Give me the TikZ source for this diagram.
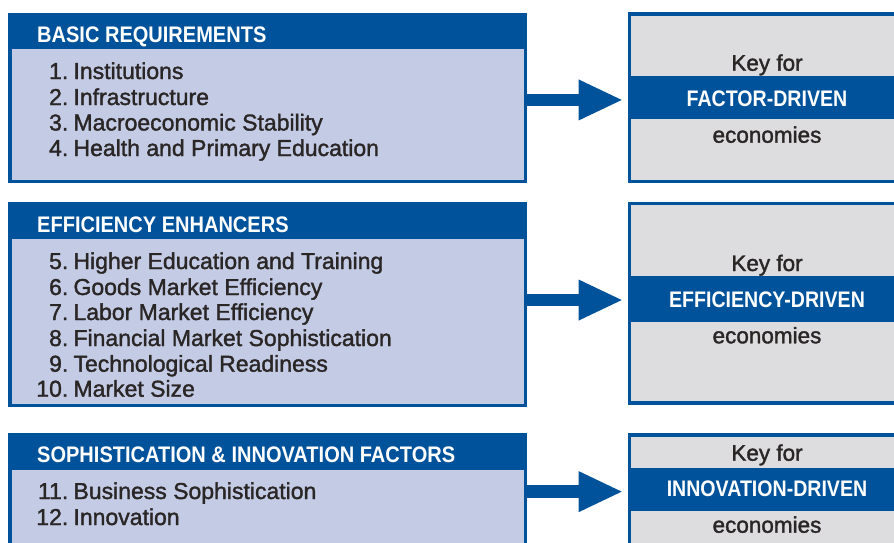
\documentclass[tikz,border=0pt]{standalone}
\usepackage{fontspec}
\setmainfont{Liberation Sans}
\newfontfamily\bodyfont{Liberation Sans}[RawFeature={embolden=1.5}]
\newfontfamily\headfont{Liberation Sans}[FakeStretch=0.89]
\newfontfamily\bandfont{Liberation Sans}[FakeStretch=0.87]
\usetikzlibrary{arrows.meta,calc}
\definecolor{wefblue}{HTML}{00529B}
\definecolor{lightpanel}{HTML}{C4CBE4}
\definecolor{keygray}{HTML}{DDDDE0}
\definecolor{bodytext}{HTML}{2A2626}
\begin{document}
\begin{tikzpicture}[x=1pt,y=-1pt,
  panel/.style={draw=wefblue, line width=3.5pt, fill=lightpanel, outer sep=0pt, inner sep=0pt, anchor=north west},
  keybox/.style={panel, fill=keygray},
  band/.style={fill=wefblue, outer sep=0pt, inner sep=0pt, anchor=north west},
  headtxt/.style={text=white, font=\headfont\bfseries\fontsize{22.5}{26}\selectfont, inner sep=0pt, anchor=base west},
  num/.style={text=bodytext, font=\bodyfont\fontsize{23}{26}\selectfont, inner sep=0pt, anchor=base east},
  item/.style={num, anchor=base west},
  keytxt/.style={text=bodytext, font=\bodyfont\fontsize{22.5}{26}\selectfont, inner sep=0pt, anchor=base},
  bandtxt/.style={text=white, font=\bandfont\bfseries\fontsize{22.5}{26}\selectfont, inner sep=0pt, anchor=base},
  bigarrow/.style={draw=wefblue, line width=12.5pt, -{Triangle[length=43pt,width=41pt,line width=0pt]}, shorten >=7.8pt}
]
\useasboundingbox (0,0) rectangle (894,543);
\clip (0,0) rectangle (894,543);

% ---------- left panels ----------
\node[panel, minimum width=515.5pt, minimum height=166.75pt] (b1) at (9.75,14.5) {};
\node[band, minimum width=515.5pt, minimum height=34.8pt] (h1) at (b1.north west) {};
\node[panel, minimum width=515.5pt, minimum height=202pt] (b2) at (9.75,203.5) {};
\node[band, minimum width=515.5pt, minimum height=35.8pt] (h2) at (b2.north west) {};
\node[panel, minimum width=515.5pt, minimum height=165pt] (b3) at (9.75,435) {};
\node[band, minimum width=515.5pt, minimum height=35pt] (h3) at (b3.north west) {};
\draw[wefblue, line width=3.5pt] (b1.north west) rectangle (b1.south east);
\draw[wefblue, line width=3.5pt] (b2.north west) rectangle (b2.south east);
\draw[wefblue, line width=3.5pt] (b3.north west) rectangle (b3.south east);

\node[headtxt] (ht1) at (37,42.3) {BASIC REQUIREMENTS};
\node[headtxt] (ht2) at (37,232.3) {EFFICIENCY ENHANCERS};
\node[headtxt] (ht3) at (37,462.7) {SOPHISTICATION \& INNOVATION FACTORS};

\foreach \n/\y/\t in {
  1/79/Institutions,
  2/105/Infrastructure,
  3/130.5/Macroeconomic Stability,
  4/156/Health and Primary Education,
  5/269/Higher Education and Training,
  6/295/Goods Market Efficiency,
  7/320/Labor Market Efficiency,
  8/346/Financial Market Sophistication,
  9/371.7/Technological Readiness,
  10/396.7/Market Size,
  11/499/Business Sophistication,
  12/525/Innovation}{
  \node[num] (n\n) at (68.5,\y) {\n.};
  \node[item] (t\n) at (73.3,\y) {\t};
}

% ---------- key panels ----------
\node[keybox, minimum width=280.5pt, minimum height=167.5pt] (k1) at (629.5,14) {};
\node[band, minimum width=280.5pt, minimum height=43.3pt] (kb1) at (629.5,76) {};
\node[keybox, minimum width=280.5pt, minimum height=199.7pt] (k2) at (629.5,203.5) {};
\node[band, minimum width=280.5pt, minimum height=45.7pt] (kb2) at (629.5,276) {};
\node[keybox, minimum width=280.5pt, minimum height=165pt] (k3) at (629.5,435) {};
\node[band, minimum width=280.5pt, minimum height=42.7pt] (kb3) at (629.5,468.3) {};

\node[keytxt] (kf1) at (767,70.7) {Key for};
\node[bandtxt] (kd1) at (767,106.7) {FACTOR-DRIVEN};
\node[keytxt] (ke1) at (767,142.7) {economies};
\node[keytxt] (kf2) at (767,271) {Key for};
\node[bandtxt] (kd2) at (767,307.3) {EFFICIENCY-DRIVEN};
\node[keytxt] (ke2) at (767,343.3) {economies};
\node[keytxt] (kf3) at (767,460.7) {Key for};
\node[bandtxt] (kd3) at (767,496.7) {INNOVATION-DRIVEN};
\node[keytxt] (ke3) at (767,532.7) {economies};

% ---------- arrows ----------
\draw[bigarrow] ($(b1.east |- kb1.center)+(0,2.3)$) -- ($(kb1.west)+(0,2.3)$);
\draw[bigarrow] ($(b2.east |- kb2.center)+(0,1.2)$) -- ($(kb2.west)+(0,1.2)$);
\draw[bigarrow] ($(b3.east |- kb3.center)+(0,2)$) -- ($(kb3.west)+(0,2)$);
\end{tikzpicture}
\end{document}
